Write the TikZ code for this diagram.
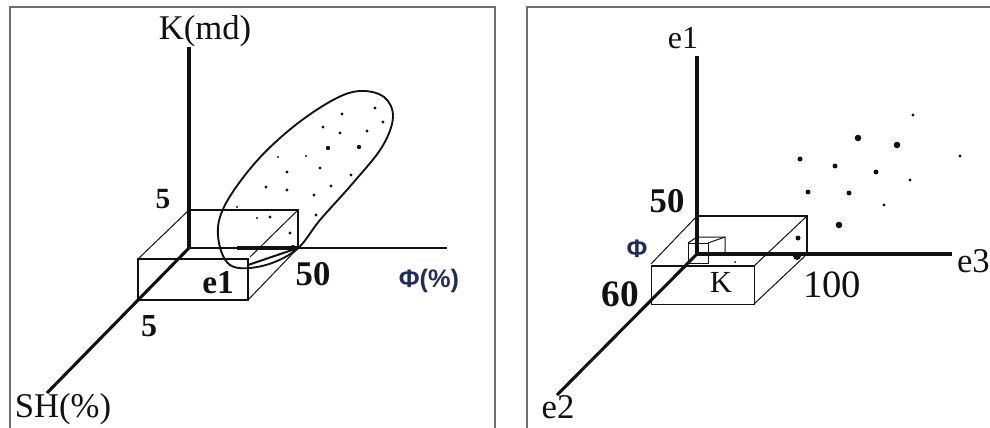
\documentclass[tikz,border=0pt]{standalone}
\usepackage{fontspec}
\setmainfont{Liberation Serif}
\newfontfamily\phisans{Liberation Sans}
\definecolor{ink}{HTML}{111111}
\definecolor{framegrey}{HTML}{6E6E6E}
\definecolor{phiink}{HTML}{232A5C}
\tikzset{
  frame/.style={draw=framegrey,line width=1.6pt},
  axis/.style={draw=ink,line width=2.3pt},
  phiaxis/.style={draw=ink,line width=1.5pt},
  edge/.style={draw=ink,line width=1.5pt},
  hairline/.style={draw=ink,line width=0.75pt},
  oval/.style={draw=ink,line width=1.4pt},
  speck/.style={fill=ink},
  axisname/.style={anchor=base,text=ink},
  tick/.style={anchor=base,text=ink,font=\bfseries},
  phiname/.style={anchor=base,text=phiink,font=\phisans\bfseries\fontsize{19pt}{22pt}\selectfont}
}

\begin{document}
\begin{tikzpicture}[x=0.75pt,y=-0.75pt,every node/.style={inner sep=0pt,outer sep=0pt}]
\path[use as bounding box] (0,0) rectangle (990,428);
\clip (0,0) rectangle (990,428);

% left panel: K, phi, SH
\draw[frame] (10,434) -- (10,7) -- (495,7) -- (495,434);
\coordinate (l-origin) at (189,248);
\coordinate (l-ktop) at (189,47);
\coordinate (l-phiend) at (447,248);
\coordinate (l-shend) at (47,393);

\draw[oval] plot[smooth cycle,tension=0.6] coordinates {(218,236) (225,205) (255,163) (293,127) (333,100) (360,91) (384,97) (393,117) (382,147) (353,183) (320,220) (296,250) (262,266) (230,265)};
\foreach \px/\py in {342/114,375/108,383/122,323/127,340/133,367/131,320/168,287/172,351/175,266/187,287/190,331/186,314/195,316/215,270/217,290/233}
  \fill[speck] (\px,\py) circle [radius=1.7];
\foreach \px/\py in {328/148,359/147}
  \fill[speck] (\px,\py) circle [radius=2.2];
\foreach \px/\py in {278/157,306/156,257/218,237/207}
  \fill[speck] (\px,\py) circle [radius=1.1];

\draw[edge] (189,210) -- (298,210) -- (298,248);
\draw[edge] (138,259) rectangle (248,300);
\draw[hairline] (189,210) -- (138,259);
\draw[hairline] (298,210) -- (250,257);
\draw[edge] (248,265) -- (298,248);
\draw[hairline] (248,300) -- (298,248);

\draw[axis] (l-origin) -- (l-ktop);
\draw[phiaxis] (l-origin) -- (l-phiend);
\draw[line width=2.6pt,draw=ink] (237,248) -- (298,248);
\draw[axis] (l-origin) -- (l-shend);
\fill[speck] (293,248) circle [radius=3];

\node[axisname,font=\fontsize{26pt}{30pt}\selectfont] (l-k-name) at (205,40) {K(md)};
\node[axisname,font=\fontsize{26pt}{30pt}\selectfont] (l-sh-name) at (63,417) {SH(\%)};
\node[phiname] (l-phi-name) at (429,287) {Φ(\%)};
\node[tick,font=\bfseries\fontsize{22pt}{26pt}\selectfont] (l-k-five) at (163,209) {5};
\node[tick,font=\bfseries\fontsize{26pt}{30pt}\selectfont] (l-phi-fifty) at (313,285) {50};
\node[tick,font=\bfseries\fontsize{25pt}{30pt}\selectfont] (l-e-one) at (218,293) {e1};
\node[tick,font=\bfseries\fontsize{24pt}{28pt}\selectfont] (l-sh-five) at (149,336) {5};

% right panel: e1, e2, e3
\draw[frame] (527,434) -- (527,7) -- (995,7);
\coordinate (r-origin) at (697,254);
\coordinate (r-etop) at (697,56);
\coordinate (r-eright) at (952,254);
\coordinate (r-eleft) at (557,395);

\foreach \px/\py in {913/115,960/156,910/180,884/205}
  \fill[speck] (\px,\py) circle [radius=1.7];
\foreach \px/\py in {800/159,835/166,876/172,808/192,849/193,798/238}
  \fill[speck] (\px,\py) circle [radius=2.5];
\foreach \px/\py in {858/138,897/145,839/225}
  \fill[speck] (\px,\py) circle [radius=3.3];

\draw[edge] (697,216) -- (807,216) -- (807,254);
\draw[edge] (651,266) -- (754,266);
\draw[hairline] (651,266) -- (651,304) -- (754,304) -- (754,266);
\draw[hairline] (697,216) -- (651,264);
\draw[hairline] (807,216) -- (754,266);
\draw[hairline] (805,256) -- (754,304);
\draw[hairline] (688,243) rectangle (708,263);
\draw[hairline] (688,243) -- (697,237) -- (725,237) -- (725,256);
\draw[hairline] (708,243) -- (725,237);

\draw[axis] (r-origin) -- (r-etop);
\draw[axis] (r-origin) -- (r-eright);
\draw[axis] (r-origin) -- (r-eleft);
\fill[speck] (797,256) circle [radius=4];
\fill[speck] (735,262) circle [radius=1];

\node[axisname,font=\fontsize{24pt}{28pt}\selectfont] (r-e-one) at (683,49) {e1};
\node[axisname,font=\fontsize{26pt}{30pt}\selectfont,anchor=base west] (r-e-three) at (957,272) {e3};
\node[axisname,font=\fontsize{26pt}{30pt}\selectfont] (r-e-two) at (558,418) {e2};
\node[tick,font=\bfseries\fontsize{26pt}{30pt}\selectfont] (r-e-fifty) at (667,212) {50};
\node[tick,font=\bfseries\fontsize{28pt}{32pt}\selectfont] (r-e-sixty) at (620,306) {60};
\node[axisname,font=\fontsize{29pt}{34pt}\selectfont] (r-e-hundred) at (832,297) {100};
\node[axisname,font=\fontsize{23pt}{27pt}\selectfont] (r-k-name) at (721,292) {K};
\node[phiname] (r-phi-name) at (637,257) {Φ};
\end{tikzpicture}
\end{document}
